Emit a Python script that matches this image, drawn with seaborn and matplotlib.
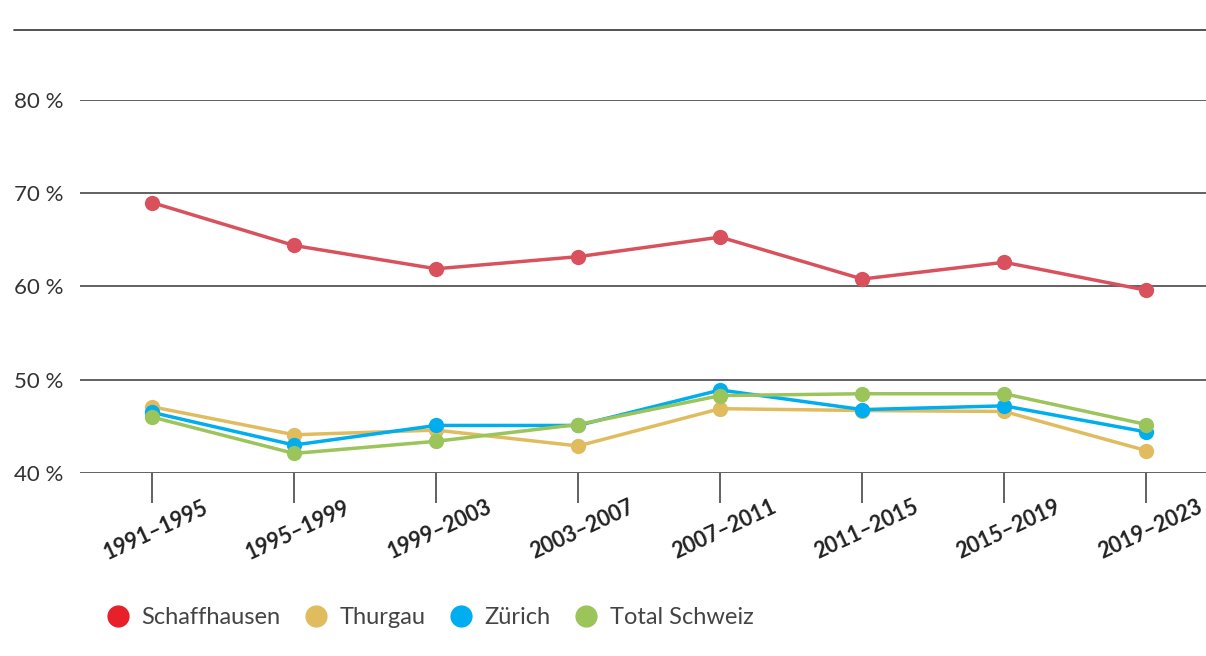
import pandas as pd
import numpy as np
import matplotlib.pyplot as plt
import seaborn as sns
from matplotlib.lines import Line2D
from matplotlib.transforms import ScaledTranslation

# data
periods = ["1991–1995", "1995–1999", "1999–2003", "2003–2007",
           "2007–2011", "2011–2015", "2015–2019", "2019–2023"]
schaffhausen = [69.0, 64.4, 61.9, 63.2, 65.3, 60.8, 62.6, 59.6]
thurgau = [47.1, 44.1, 44.6, 42.9, 46.9, 46.7, 46.6, 42.4]
zuerich = [46.5, 43.0, 45.1, 45.1, 48.9, 46.8, 47.2, 44.4]
total_schweiz = [46.0, 42.1, 43.4, 45.2, 48.3, 48.5, 48.5, 45.2]
yticks = [40, 50, 60, 70, 80]

series = {
    "Schaffhausen": schaffhausen,
    "Thurgau": thurgau,
    "Zürich": zuerich,
    "Total Schweiz": total_schweiz,
}
line_colors = {"Schaffhausen": "#D9515C", "Thurgau": "#E0BC5E",
               "Zürich": "#00AEEF", "Total Schweiz": "#9BC45A"}
legend_colors = {"Schaffhausen": "#E8202A", "Thurgau": "#E0BC5E",
                 "Zürich": "#00AEEF", "Total Schweiz": "#9BC45A"}

rows = []
for name, vals in series.items():
    for p, v in zip(periods, vals):
        rows.append({"period": p, "value": v, "region": name})
df = pd.DataFrame(rows)
df["x"] = df["period"].map({p: i for i, p in enumerate(periods)})

sns.set_style("white")
plt.rcParams["font.family"] = ["Lato", "DejaVu Sans"]

fig = plt.figure(figsize=(12.06, 6.56), dpi=100)
ax = fig.add_axes([80 / 1206, 1 - 473 / 656, 1 - 80 / 1206, (473 - 100) / 656])

sns.lineplot(data=df, x="x", y="value", hue="region", palette=line_colors,
             hue_order=list(series.keys()), marker="o", markersize=11,
             markeredgewidth=0, linewidth=2.5, sort=False, legend=False, ax=ax)

ax.set_xlim(-0.507, 7.42)
ax.set_ylim(40, 80)
ax.set_yticks(yticks)
ax.set_yticklabels([f"{t} %" for t in yticks], fontsize=16, color="#333333", ha="left")
ax.tick_params(axis="y", left=False, length=0, pad=66 * 72 / 100)
ax.set_xticks(range(len(periods)))
ax.set_xticklabels(periods, rotation=25, ha="center", fontsize=15.5,
                   fontweight="bold", color="#222222")
ax.tick_params(axis="x", bottom=True, length=21.5, width=1.3, color="#555555",
               pad=-4.5, direction="out")
shift = ScaledTranslation(4 / 100, 0, fig.dpi_scale_trans)
for lbl in ax.get_xticklabels():
    lbl.set_transform(lbl.get_transform() + shift)
ax.grid(axis="y", color="#555555", linewidth=1.3)
ax.grid(axis="x", visible=False)
for s in ax.spines.values():
    s.set_visible(False)
ax.set_xlabel("")
ax.set_ylabel("")
ax.set_axisbelow(True)
for ln in ax.lines:
    ln.set_clip_on(False)

# rule under the (cropped) title
fig.add_artist(Line2D([14 / 1206, 1], [1 - 30 / 656] * 2, color="#444444", linewidth=1.3))

handles = [Line2D([], [], marker="o", linestyle="", markersize=16,
                  markerfacecolor=legend_colors[n], markeredgewidth=0) for n in series]
fig.legend(handles, list(series.keys()), loc="center left",
           bbox_to_anchor=(106 / 1206, 1 - 618 / 656), ncol=4, frameon=False,
           fontsize=17, labelcolor="#444444", handletextpad=0.5,
           columnspacing=1.0, handlelength=1.0, borderaxespad=0, borderpad=0)

fig.savefig("out.png", dpi=100)
